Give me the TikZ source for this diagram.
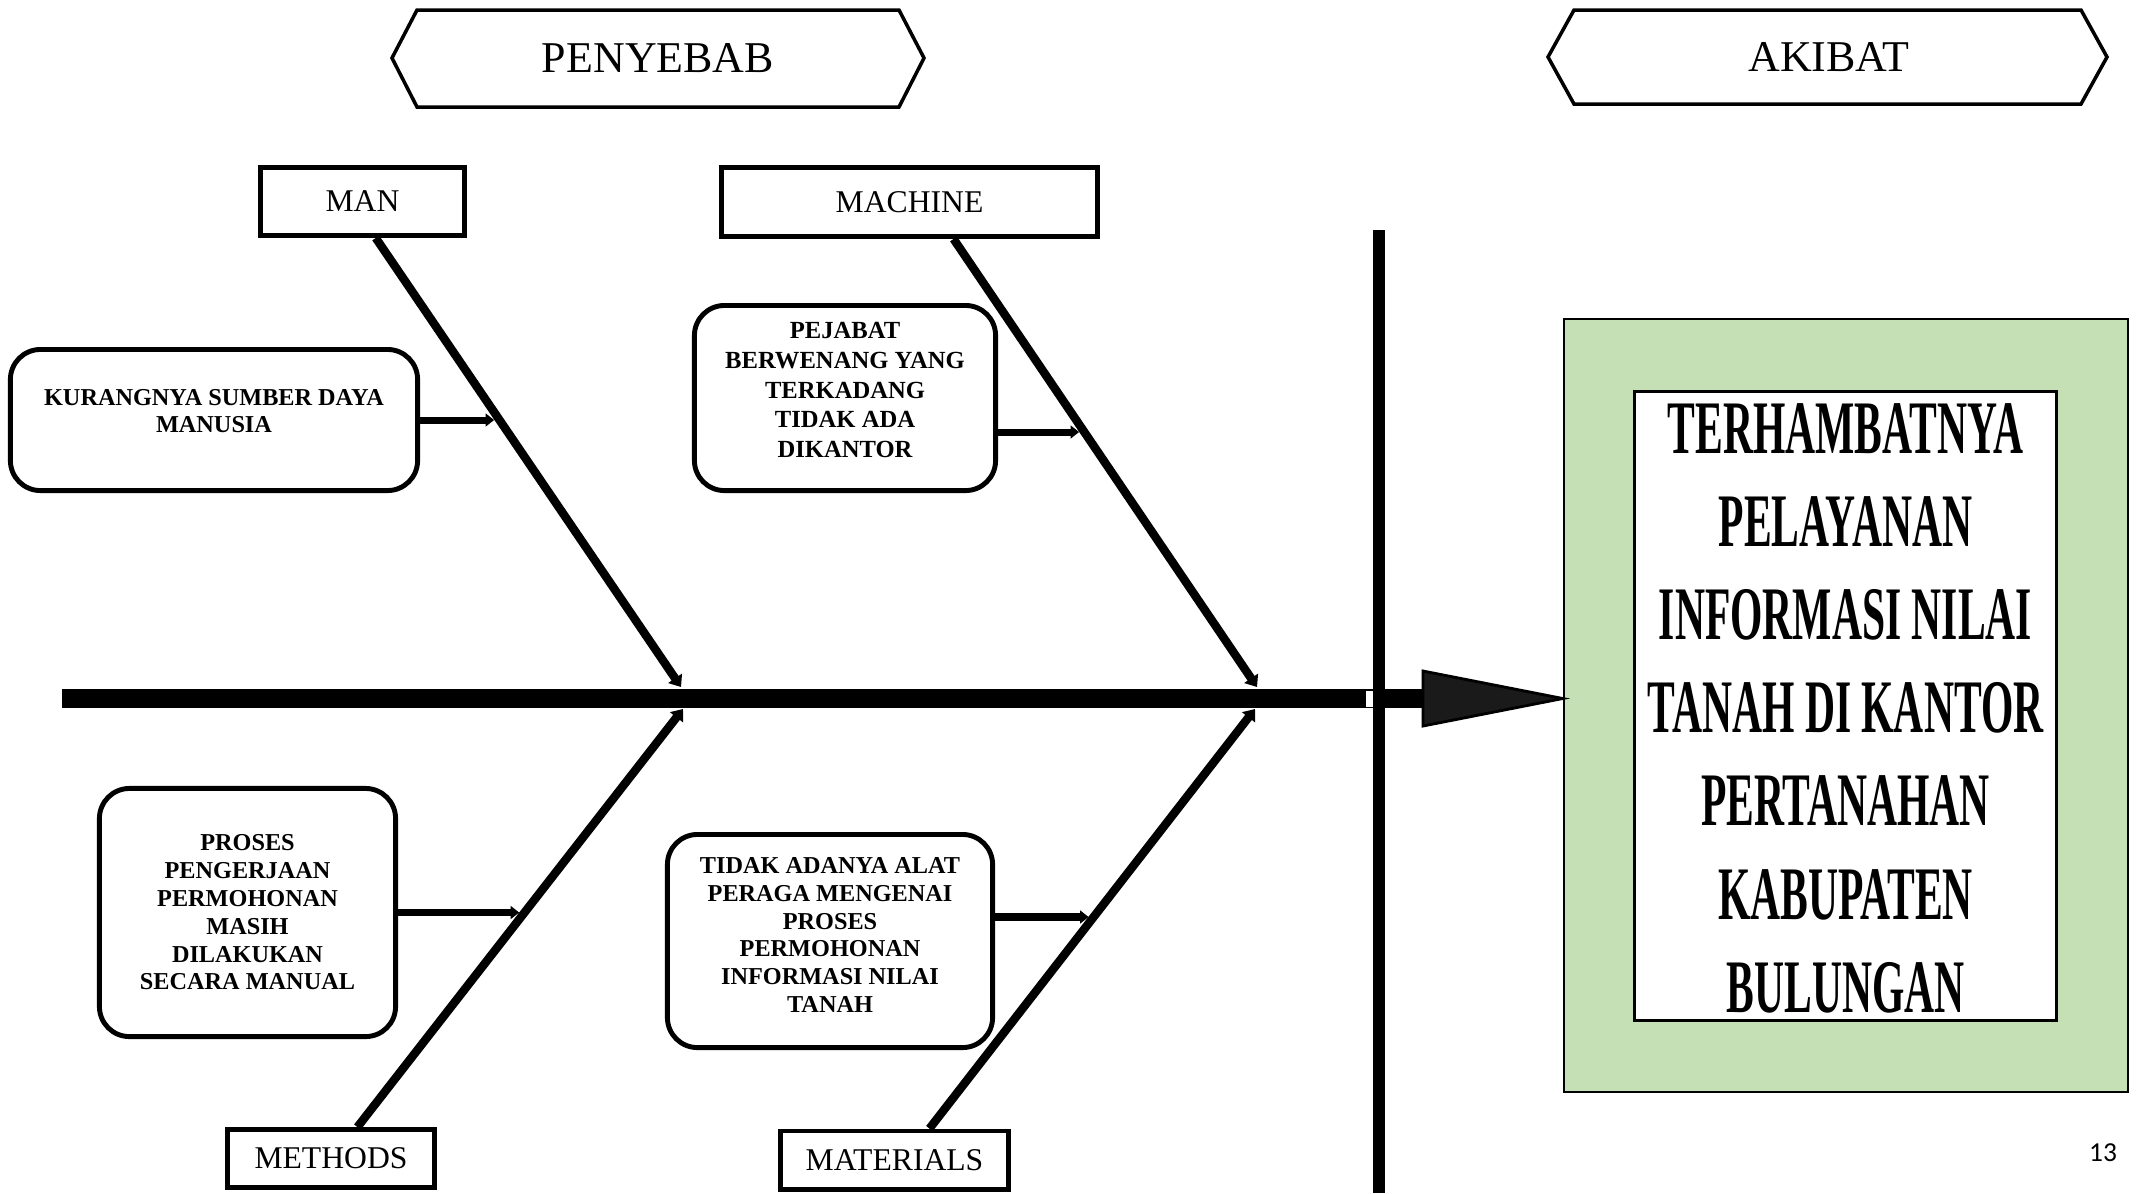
\documentclass[tikz,border=0pt]{standalone}
\usepackage{fontspec}
\setmainfont{Liberation Serif}
\newfontfamily\pagefont{Carlito}
\usepackage{graphicx}
\usetikzlibrary{arrows.meta}
\definecolor{effectgreen}{HTML}{C5E0B4}
\definecolor{headgray}{HTML}{1A1A1A}

\begin{document}
\begin{tikzpicture}[x=0.01cm,y=-0.01cm,
        catbox/.style={draw,line width=1.4pt,inner sep=0pt,font=\fontsize{9}{10}\selectfont},
        causebox/.style={draw,line width=1.4pt,rounded corners=0.3cm,align=center,inner sep=0pt,font=\fontsize{6.9}{7.9}\selectfont\bfseries},
        bone/.style={line width=2.4pt,-{Triangle[length=3pt,width=4.6pt]}},
        subarrow/.style={line width=2pt,shorten >=1.5pt,-{Triangle[length=2.4pt,width=3.6pt]}},
        headshape/.style={line width=1pt,line join=miter}]
        \useasboundingbox (0,0) rectangle (2143,1193);

        \draw[headshape] (392,58) -- (417,10) -- (899,10) -- (924,58) -- (899,107) -- (417,107) -- cycle;
        \node (cause) at (658,58) {\fontsize{12.5}{14}\selectfont PENYEBAB};
        \draw[headshape] (1548,57) -- (1574,10) -- (2081,10) -- (2107,57) -- (2081,104) -- (1574,104) -- cycle;
        \node (result) at (1829,57) {\fontsize{12.5}{14}\selectfont AKIBAT};

        \node[catbox,minimum width=2.04cm,minimum height=0.68cm] (man) at (362.5,201.5) {MAN};
        \node[catbox,minimum width=3.76cm,minimum height=0.69cm] (machine) at (909.5,202) {MACHINE};
        \node[catbox,minimum width=2.07cm,minimum height=0.58cm] (methods) at (331,1158.5) {METHODS};
        \node[catbox,minimum width=2.28cm,minimum height=0.58cm] (materials) at (894.5,1160) {MATERIALS};

        \node[causebox,minimum width=4.07cm,minimum height=1.41cm,font=\fontsize{6.9}{7.8}\selectfont\bfseries] (sdm) at (214,420)
            {KURANGNYA SUMBER DAYA\\MANUSIA\\[-2.7pt]};
        \node[causebox,minimum width=3.01cm,minimum height=1.85cm,font=\fontsize{7}{8.5}\selectfont\bfseries] (pejabat) at (845,398)
            {PEJABAT\\BERWENANG YANG\\TERKADANG\\TIDAK ADA\\DIKANTOR\\[-3.9pt]};
        \node[causebox,minimum width=2.96cm,minimum height=2.48cm] (proses) at (247.5,912.5)
            {PROSES\\PENGERJAAN\\PERMOHONAN\\MASIH\\DILAKUKAN\\SECARA MANUAL};
        \node[causebox,minimum width=3.25cm,minimum height=2.13cm] (alat) at (830,941)
            {TIDAK ADANYA ALAT\\PERAGA MENGENAI\\PROSES\\PERMOHONAN\\INFORMASI NILAI\\TANAH\\[-4.5pt]};

        \node[draw,line width=0.6pt,fill=effectgreen,minimum width=5.64cm,minimum height=7.73cm] (effect) at (1846,705.5) {};
        \node[draw,line width=0.8pt,fill=white,minimum width=4.22cm,minimum height=6.29cm] (frame) at (1845.5,706) {};
        \node[inner sep=0pt] (problem) at (1845.5,714)
            {\fontsize{21.5}{26.5}\selectfont\bfseries\scalebox{0.55}[1]{\begin{tabular}{@{}c@{}}
            TERHAMBATNYA\\PELAYANAN\\INFORMASI NILAI\\TANAH DI KANTOR\\PERTANAHAN\\KABUPATEN\\BULUNGAN
            \end{tabular}}};

        \coordinate (tail) at (62,698.5);
        \coordinate (neck) at (1423,698.5);
        \coordinate (vtop) at (1379,230);
        \coordinate (vbot) at (1379,1193);
        \draw[line width=5.4pt] (tail) -- (neck);
        \fill[white] (1366,690.5) rectangle (1373,706.5);
        \draw[line width=3.4pt] (vtop) -- (vbot);
        \filldraw[fill=headgray,line width=0.8pt,line join=miter] (1423,671) -- (effect.west |- neck) -- (1423,726) -- cycle;

        \coordinate (manEnd) at (681,687);
        \coordinate (machEnd) at (1257,687);
        \coordinate (methEnd) at (683,709);
        \coordinate (matEnd) at (1255,709);
        \draw[bone] (man.-70) -- (manEnd) coordinate[pos=0.405] (onMan);
        \draw[bone] (machine.-40) -- (machEnd) coordinate[pos=0.431] (onMach);
        \draw[bone] (methods.50) -- (methEnd) coordinate[pos=0.513] (onMeth);
        \draw[bone] (materials.42) -- (matEnd) coordinate[pos=0.505] (onMat);

        \coordinate (pjOut) at ([yshift=-0.34cm]pejabat.east);
        \coordinate (alOut) at ([yshift=0.24cm]alat.east);
        \draw[subarrow] (sdm.east) -- (sdm.east -| onMan);
        \draw[subarrow] (pjOut) -- (pjOut -| onMach);
        \draw[subarrow] (proses.east) -- (proses.east -| onMeth);
        \draw[subarrow] (alOut) -- (alOut -| onMat);

        \node[font=\pagefont\fontsize{7.8}{9}\selectfont] (pnum) at (2103,1153) {13};
    \end{tikzpicture}
\end{document}
